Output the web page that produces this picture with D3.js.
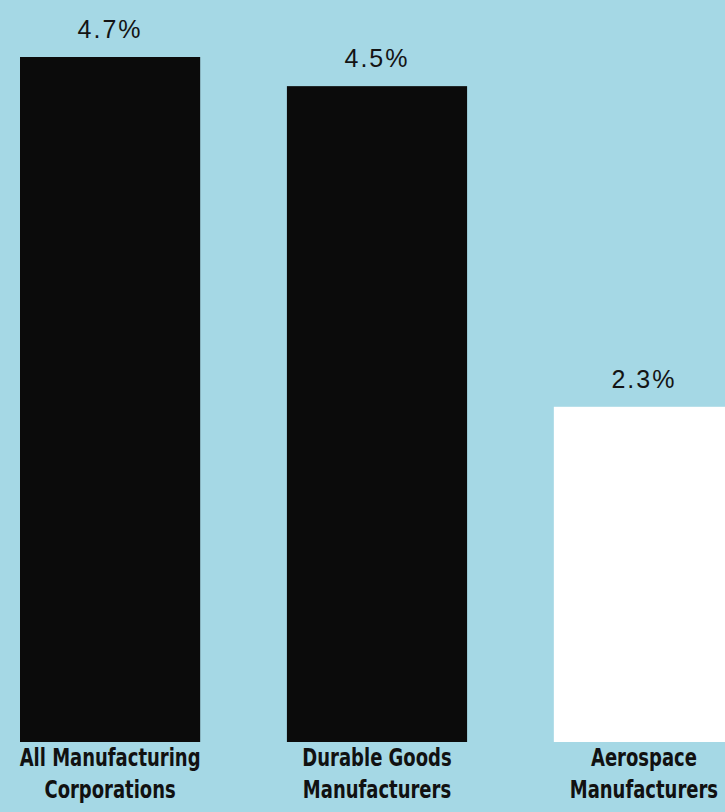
<!DOCTYPE html>
<html lang="en">
	<head>
		<meta charset="utf-8">
		<title>Profit on sales: manufacturers</title>
		<script type="text/javascript" src="https://cdn.jsdelivr.net/npm/d3@7"></script>
		<style type="text/css">
			html, body { margin: 0; padding: 0; background: #a5d8e5; }
			svg { display: block; }
		</style>
	</head>
	<body>
		<script type="text/javascript">
			var w = 725;
			var h = 812;

			var categories = ["All Manufacturing", "Durable Goods", "Aerospace"];
			var categories2 = ["Corporations", "Manufacturers", "Manufacturers"];
			var values = [4.7, 4.5, 2.3];
			var barColors = ["#0b0b0b", "#0b0b0b", "#ffffff"];

			var xScale = d3.scaleBand()
							.domain(d3.range(values.length))
							.range([20, 734])
							.paddingInner(0.325)
							.paddingOuter(0);
			var yScale = d3.scaleLinear()
							.domain([0, 4.7])
							.range([742, 57]);

			//create svg
			var svg = d3.select("body")
							.append("svg")
							.attr("width", w)
							.attr("height", h);

			svg.append("rect")
				.attr("width", w)
				.attr("height", h)
				.attr("fill", "#a5d8e5");

			//bars
			svg.selectAll("rect.bar")
				.data(values)
				.enter()
				.append("rect")
				.attr("class", "bar")
				.attr("x", function(d, i) { return xScale(i); })
				.attr("y", function(d) { return yScale(d); })
				.attr("width", xScale.bandwidth())
				.attr("height", function(d) { return yScale(0) - yScale(d); })
				.attr("fill", function(d, i) { return barColors[i]; });

			//value labels
			svg.selectAll("text.val")
				.data(values)
				.enter()
				.append("text")
				.attr("class", "val")
				.text(function(d) { return d.toFixed(1) + "%"; })
				.attr("text-anchor", "middle")
				.attr("x", function(d, i) { return xScale(i) + xScale.bandwidth() / 2; })
				.attr("y", function(d) { return yScale(d) - 19; })
				.attr("font-family", "'Liberation Sans', Arial, sans-serif")
				.attr("font-size", "25px")
				.attr("letter-spacing", "2px")
				.attr("fill", "#141414");

			//category labels, squeezed to look condensed
			var cat = svg.selectAll("g.cat")
				.data(categories)
				.enter()
				.append("g")
				.attr("class", "cat")
				.attr("transform", function(d, i) {
					return "translate(" + (xScale(i) + xScale.bandwidth() / 2) + ",0) scale(0.8,1)";
				})
				.append("text")
				.attr("text-anchor", "middle")
				.attr("font-family", "'DejaVu Sans', sans-serif")
				.attr("font-stretch", "condensed")
				.attr("font-weight", "bold")
				.attr("font-size", "25px")
				.attr("fill", "#111");
			cat.append("tspan")
				.attr("x", 0)
				.attr("y", 766)
				.text(function(d) { return d; });
			cat.append("tspan")
				.attr("x", 0)
				.attr("y", 798)
				.text(function(d, i) { return categories2[i]; });
		</script>
	</body>
</html>
